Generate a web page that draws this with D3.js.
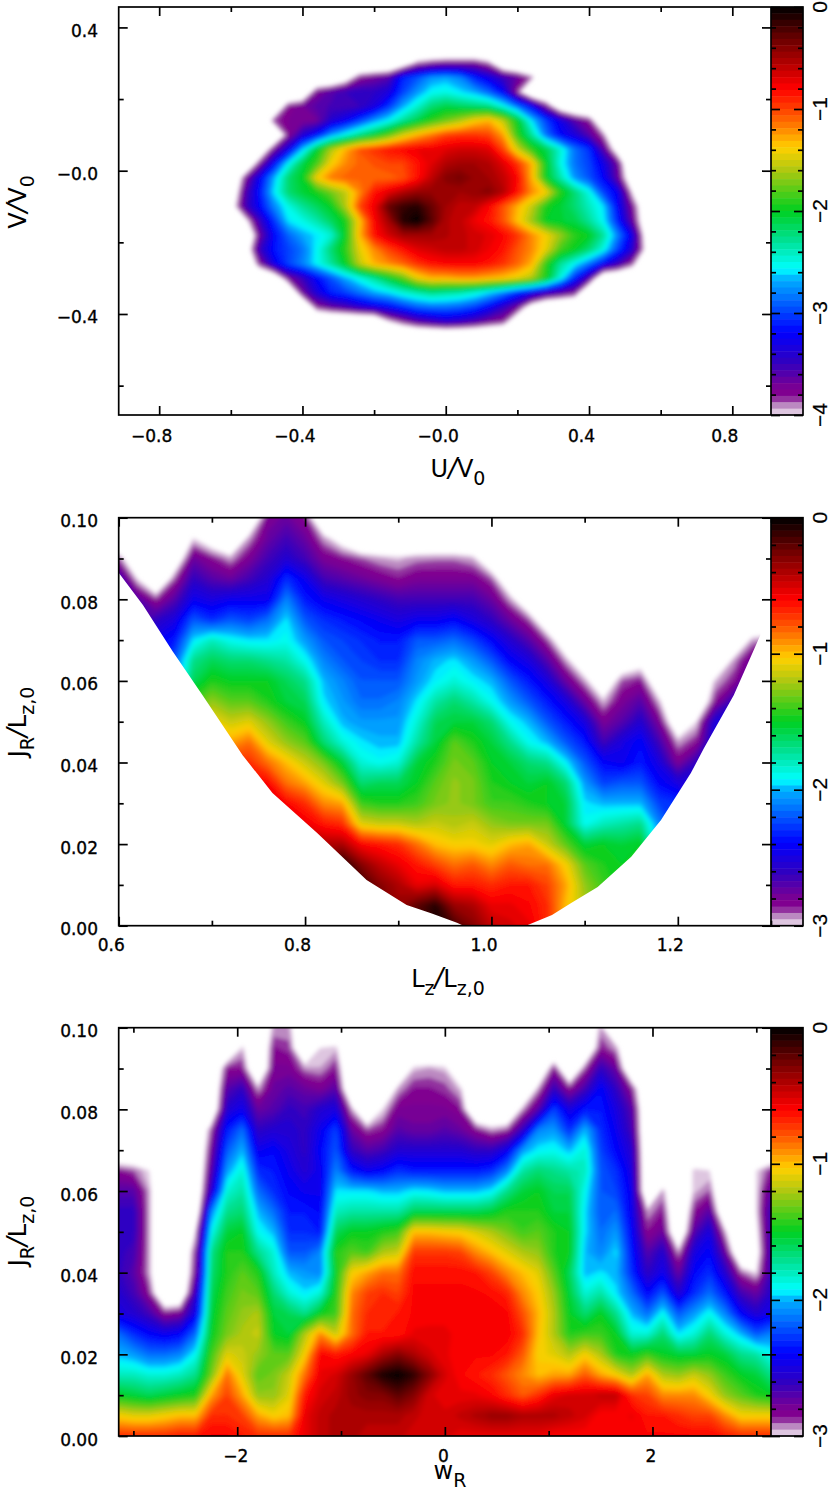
<!DOCTYPE html>
<html>
<head>
<meta charset="utf-8">
<script src="https://cdnjs.cloudflare.com/ajax/libs/d3/7.9.0/d3.min.js"></script>
<style>
    html, body { margin: 0; padding: 0; background: #fff; }
    svg { display: block; }
    text { font-family: "DejaVu Sans", sans-serif; fill: #000; }
    .tickLabel { font-size: 17px; stroke: #000; stroke-width: 0.35px; }
    .barLabel { font-family: "Liberation Sans", sans-serif; font-size: 21px; stroke: #000; stroke-width: 0.2px; }
    .axisTitle { font-size: 24px; }
    .tick line, .frame { stroke: #000; stroke-width: 1.7px; }
</style>
</head>
<body>
<svg id="chart" width="830" height="1491">
    <defs>
        <filter id="soften" x="-5%" y="-5%" width="110%" height="110%">
            <feGaussianBlur stdDeviation="2"></feGaussianBlur>
        </filter>
    </defs>
</svg>
<script>
//Colour table: position along the bar (0 = top) and colour.
var barStops = [0, 0.07, 0.13, 0.2, 0.25, 0.295, 0.345, 0.4, 0.5, 0.57, 0.643, 0.667, 0.797, 0.87, 0.937, 0.955, 0.968, 1];
var barColors = ["#000000", "#600000", "#a80000", "#ff0000", "#ff4000", "#ff8000", "#ffd000", "#b0c810", "#00d020", "#00e090", "#00ffff", "#00b0ff", "#0000ff", "#3000c0", "#800090", "#800090", "#a868b0", "#f0e4f0"];

//Top panel: log density on a U,V grid, rows run from the top of the plot down.
var B = -4.5;
var gridU = [-0.6, 0.6];
var gridV = [0.34, -0.46];
var velocityRows = [
    [B,B,B,B,B,B,B,B,B,B,B,B,B,B,B,B,B,B,B,B,B,B,B,B,B,B,B,B,B,B,B],
    [B,B,B,B,B,B,B,B,B,B,B,B,-4.3,-3.9,-3.8,-3.75,-3.75,-3.75,-3.9,-4.4,B,B,B,B,B,B,B,B,B,B,B],
    [B,B,B,B,B,B,B,B,-4.2,-3.8,-3.7,-3.6,-3.1,-2.95,-2.75,-2.7,-2.8,-3.1,-3.3,-3.5,-3.65,-3.9,B,B,B,B,B,B,B,B,B],
    [B,B,B,B,B,-4.4,-3.75,-3.6,-3.5,-3.45,-3.45,-3.35,-3.0,-2.75,-2.55,-2.5,-2.6,-2.7,-2.9,-3.2,-3.85,B,B,B,B,B,B,B,B,B,B],
    [B,B,B,B,-3.8,-3.7,-3.6,-3.55,-3.55,-3.5,-3.35,-3.05,-2.7,-2.45,-2.2,-2.1,-2.15,-2.2,-2.25,-2.5,-2.85,-3.2,-3.75,-4.3,B,B,B,B,B,B,B],
    [B,B,B,-3.85,-3.75,-3.75,-3.7,-3.4,-3.25,-3.0,-2.75,-2.55,-2.3,-2.1,-1.9,-1.75,-1.6,-1.4,-1.3,-1.55,-2.0,-2.6,-3.0,-3.3,-3.6,-3.8,-4.4,B,B,B,B],
    [B,B,B,B,-3.8,-3.4,-3.15,-2.75,-2.5,-2.25,-2.05,-1.8,-1.5,-1.3,-1.15,-1.0,-0.95,-0.95,-1.0,-1.25,-1.9,-2.3,-2.85,-3.2,-3.35,-3.6,-3.9,B,B,B,B],
    [B,B,-4.4,-3.75,-3.3,-2.65,-2.05,-1.6,-1.3,-1.05,-0.95,-0.85,-0.8,-0.75,-0.75,-0.7,-0.65,-0.65,-0.7,-1.0,-1.5,-1.9,-2.1,-2.45,-2.85,-3.05,-3.6,-4.2,B,B,B],
    [B,B,-3.8,-3.2,-2.55,-2.1,-1.85,-1.4,-1.2,-1.1,-1.05,-1.0,-1.0,-0.85,-0.7,-0.55,-0.5,-0.5,-0.55,-0.7,-0.95,-1.3,-2.0,-2.5,-2.85,-3.0,-3.3,-3.7,-4.5,B,B],
    [B,-3.8,-3.25,-2.7,-2.2,-2.0,-1.4,-1.15,-1.1,-1.1,-1.1,-1.1,-1.05,-0.85,-0.6,-0.4,-0.35,-0.45,-0.5,-0.6,-0.8,-1.3,-2.0,-2.35,-2.75,-2.95,-3.2,-3.65,-4.3,B,B],
    [-4.4,-3.6,-3.15,-2.6,-2.2,-2.05,-1.95,-1.75,-1.55,-1.2,-0.85,-0.7,-0.55,-0.45,-0.45,-0.5,-0.5,-0.45,-0.4,-0.55,-0.85,-1.2,-1.4,-1.9,-2.2,-2.5,-3.0,-3.25,-4.0,B,B],
    [-4.2,-3.55,-3.2,-2.8,-2.5,-2.3,-2.15,-2.0,-1.6,-1.0,-0.75,-0.3,-0.15,-0.1,-0.3,-0.5,-0.6,-0.6,-0.8,-1.05,-1.3,-1.55,-1.95,-2.05,-2.2,-2.4,-2.6,-3.2,-3.75,-4.3,B],
    [B,-4.1,-3.5,-3.05,-2.6,-2.5,-2.35,-2.15,-1.95,-1.35,-0.8,-0.5,-0.1,0,-0.25,-0.55,-0.6,-0.75,-0.85,-1.05,-1.35,-1.65,-2.0,-2.05,-2.1,-2.3,-2.55,-3.1,-3.65,-4.3,B],
    [B,-4.5,-3.7,-3.2,-2.9,-2.7,-2.6,-2.45,-2.0,-1.3,-0.85,-0.65,-0.5,-0.5,-0.5,-0.55,-0.6,-0.65,-0.7,-0.8,-0.95,-1.2,-1.4,-1.65,-1.9,-2.0,-2.3,-2.8,-3.3,-4.2,B],
    [B,-4.3,-3.5,-3.15,-3.0,-2.85,-2.55,-2.2,-1.9,-1.45,-1.2,-1.0,-0.85,-0.7,-0.65,-0.6,-0.6,-0.65,-0.75,-0.85,-1.05,-1.2,-1.45,-1.85,-2.0,-2.2,-2.5,-3.0,-3.4,-4.1,B],
    [B,B,-3.8,-3.3,-3.0,-2.8,-2.55,-2.3,-2.0,-1.55,-1.3,-1.2,-1.1,-0.95,-0.85,-0.8,-0.8,-0.8,-0.85,-0.95,-1.1,-1.3,-1.9,-2.3,-2.55,-2.85,-3.2,-3.5,-3.85,B,B],
    [B,B,B,-4.4,-3.75,-3.5,-3.2,-2.95,-2.7,-2.5,-2.3,-2.05,-1.8,-1.45,-1.3,-1.3,-1.25,-1.25,-1.3,-1.35,-1.45,-1.6,-1.95,-2.5,-3.1,-3.6,B,B,B,B,B],
    [B,B,B,B,B,-3.7,-3.35,-3.1,-3.0,-2.85,-2.7,-2.6,-2.45,-2.35,-2.25,-2.3,-2.35,-2.45,-2.6,-2.8,-3.05,-3.25,-3.45,-3.6,-3.75,B,B,B,B,B,B],
    [B,B,B,B,B,B,-3.8,-3.65,-3.55,-3.4,-3.3,-3.2,-3.05,-2.9,-2.85,-2.85,-2.9,-3.0,-3.2,-3.45,-3.7,-4.2,B,B,B,B,B,B,B,B,B],
    [B,B,B,B,B,B,B,B,B,B,B,-4.0,-3.8,-3.6,-3.5,-3.4,-3.45,-3.55,-3.7,-3.8,-4.3,B,B,B,B,B,B,B,B,B,B],
    [B,B,B,B,B,B,B,B,B,B,B,B,B,B,B,B,B,B,B,B,B,B,B,B,B,B,B,B,B,B,B]
];

//Middle panel: columns run along Lz, each column from J=0 upward.
var T = -3.3;
var gridLz = [0.6, 1.3];
var gridJ2 = [0, 0.1];
var actionColumns = [
    [-2.6,-2.6,-2.6,-2.6,-2.6,-2.6,-2.6,-2.6,-2.6,-2.6,-2.6,-2.6,-2.6,-2.6,-2.6,-2.6,-2.6,-2.6,-2.9,T,T],
    [-2.7,-2.7,-2.7,-2.7,-2.7,-2.7,-2.7,-2.7,-2.7,-2.7,-2.7,-2.7,-2.7,-2.7,-2.7,-2.7,-2.7,-3.0,T,T,T],
    [-2.45,-2.45,-2.45,-2.45,-2.45,-2.45,-2.45,-2.45,-2.45,-2.45,-2.45,-2.45,-2.45,-2.45,-2.45,-2.6,-2.88,T,T,T,T],
    [-2.1,-2.1,-2.1,-2.1,-2.1,-2.1,-2.1,-2.1,-2.1,-2.1,-2.1,-2.1,-2.1,-2.2,-2.35,-2.5,-2.7,-2.9,-3.2,T,T],
    [-1.4,-1.4,-1.4,-1.4,-1.4,-1.4,-1.4,-1.4,-1.4,-1.4,-1.4,-1.4,-1.6,-1.7,-1.95,-2.2,-2.45,-2.6,-2.75,-3.0,T],
    [-0.85,-0.85,-0.85,-0.85,-0.85,-0.85,-0.85,-0.85,-0.85,-0.85,-1.05,-1.25,-1.45,-1.6,-1.8,-2.3,-2.5,-2.7,-2.85,-3.15,T],
    [-0.7,-0.7,-0.7,-0.7,-0.7,-0.7,-0.7,-0.7,-0.7,-0.95,-1.15,-1.35,-1.5,-1.65,-1.9,-2.2,-2.45,-2.75,-2.95,T,T],
    [-0.6,-0.6,-0.6,-0.6,-0.6,-0.6,-0.6,-0.6,-0.7,-0.85,-1.1,-1.35,-1.5,-1.65,-1.95,-2.25,-2.45,-2.65,-2.8,-2.95,T],
    [-0.5,-0.5,-0.5,-0.5,-0.5,-0.5,-0.5,-0.6,-0.85,-1.1,-1.25,-1.45,-1.5,-1.7,-1.95,-2.15,-2.45,-2.55,-2.65,-2.75,-2.8],
    [-0.5,-0.5,-0.5,-0.5,-0.5,-0.5,-0.6,-0.85,-1.0,-1.25,-1.4,-1.55,-1.6,-1.75,-1.9,-1.95,-2.1,-2.3,-2.55,-2.65,-2.75],
    [-0.4,-0.4,-0.4,-0.4,-0.4,-0.55,-0.7,-0.95,-1.15,-1.35,-1.5,-1.6,-1.7,-1.9,-2.05,-2.2,-2.35,-2.45,-2.65,-2.75,-2.85],
    [-0.25,-0.25,-0.25,-0.25,-0.4,-0.65,-0.9,-1.1,-1.3,-1.65,-1.8,-1.95,-2.0,-2.1,-2.2,-2.3,-2.45,-2.65,-2.8,-2.95,T],
    [-0.1,-0.1,-0.1,-0.05,-0.4,-0.7,-0.95,-1.3,-1.55,-1.85,-2.0,-2.05,-2.1,-2.2,-2.25,-2.35,-2.5,-2.7,-2.85,-3.1,T],
    [-0.1,-0.1,-0.1,-0.3,-0.6,-1.1,-1.4,-1.65,-1.85,-1.95,-2.05,-2.15,-2.2,-2.25,-2.3,-2.4,-2.55,-2.75,-2.9,T,T],
    [-0.2,-0.2,-0.3,-0.45,-0.65,-1.15,-1.45,-1.6,-1.9,-2.0,-2.05,-2.15,-2.2,-2.3,-2.35,-2.45,-2.6,-2.8,-2.95,T,T],
    [-0.35,-0.35,-0.4,-0.55,-0.7,-1.15,-1.45,-1.6,-1.85,-2.0,-2.05,-2.1,-2.2,-2.3,-2.35,-2.5,-2.65,-2.85,-2.97,T,T],
    [-0.2,-0.2,-0.55,-0.65,-0.85,-1.2,-1.4,-1.5,-1.55,-1.75,-1.85,-1.95,-2.05,-2.1,-2.2,-2.45,-2.65,-2.8,-2.93,T,T],
    [-0.05,-0.08,-0.5,-0.75,-1.0,-1.15,-1.3,-1.35,-1.45,-1.55,-1.6,-1.75,-1.93,-2.0,-2.2,-2.45,-2.65,-2.8,-2.92,T,T],
    [-0.15,-0.35,-0.65,-0.85,-1.05,-1.2,-1.25,-1.25,-1.3,-1.35,-1.55,-1.65,-1.85,-1.95,-2.15,-2.4,-2.65,-2.8,-2.92,T,T],
    [-0.3,-0.4,-0.65,-0.8,-1.05,-1.15,-1.3,-1.3,-1.35,-1.45,-1.55,-1.75,-1.93,-2.05,-2.25,-2.5,-2.65,-2.8,-2.96,T,T],
    [-0.45,-0.55,-0.7,-0.9,-1.1,-1.25,-1.4,-1.45,-1.5,-1.55,-1.65,-1.9,-2.0,-2.2,-2.4,-2.6,-2.75,-2.9,-3.2,T,T],
    [-0.5,-0.55,-0.65,-0.8,-1.0,-1.3,-1.4,-1.5,-1.55,-1.7,-1.9,-2.05,-2.2,-2.4,-2.55,-2.75,-2.95,-3.2,T,T,T],
    [-0.55,-0.6,-0.65,-0.85,-0.95,-1.3,-1.45,-1.55,-1.65,-1.9,-2.0,-2.2,-2.35,-2.5,-2.7,-2.9,-3.2,T,T,T,T],
    [-0.7,-0.7,-0.75,-0.85,-1.15,-1.3,-1.5,-1.5,-1.7,-2.0,-2.2,-2.35,-2.5,-2.7,-2.9,-3.2,T,T,T,T,T],
    [-1.0,-1.0,-0.95,-1.05,-1.35,-1.55,-1.55,-1.65,-1.93,-2.2,-2.35,-2.5,-2.75,-2.95,-3.2,T,T,T,T,T,T],
    [-1.2,-1.2,-1.25,-1.35,-1.55,-1.9,-1.95,-2.05,-2.2,-2.35,-2.5,-2.75,-2.95,-3.2,T,T,T,T,T,T,T],
    [-1.4,-1.4,-1.4,-1.45,-1.5,-1.8,-2.0,-2.25,-2.4,-2.65,-2.8,-2.97,-3.2,T,T,T,T,T,T,T,T],
    [-1.5,-1.5,-1.5,-1.5,-1.55,-1.75,-2.0,-2.2,-2.45,-2.5,-2.7,-2.8,-2.9,-3.2,T,T,T,T,T,T,T],
    [-1.5,-1.5,-1.5,-1.5,-1.5,-1.7,-2.0,-2.2,-2.35,-2.4,-2.55,-2.7,-2.85,-3.1,T,T,T,T,T,T,T],
    [-2.0,-2.0,-2.0,-2.0,-2.0,-2.1,-2.25,-2.4,-2.5,-2.65,-2.8,-2.97,-3.2,T,T,T,T,T,T,T,T],
    [-2.3,-2.3,-2.3,-2.3,-2.3,-2.3,-2.3,-2.5,-2.8,-2.95,-3.2,T,T,T,T,T,T,T,T,T,T],
    [-2.5,-2.5,-2.5,-2.5,-2.5,-2.5,-2.5,-2.5,-2.6,-2.85,-3.0,-3.25,T,T,T,T,T,T,T,T,T],
    [-2.4,-2.4,-2.4,-2.4,-2.4,-2.4,-2.4,-2.4,-2.4,-2.45,-2.5,-2.85,-2.97,T,T,T,T,T,T,T,T],
    [-2.5,-2.5,-2.5,-2.5,-2.5,-2.5,-2.5,-2.5,-2.5,-2.5,-2.5,-2.6,-2.85,-2.95,T,T,T,T,T,T,T],
    [-2.6,-2.6,-2.6,-2.6,-2.6,-2.6,-2.6,-2.6,-2.6,-2.6,-2.6,-2.6,-2.6,-2.75,-2.95,T,T,T,T,T,T],
    [-2.6,-2.6,-2.6,-2.6,-2.6,-2.6,-2.6,-2.6,-2.6,-2.6,-2.6,-2.6,-2.6,-2.6,-2.9,T,T,T,T,T,T]
];

//Lower limit of the populated region in the middle panel.
var edgeLz = [0.6, 0.626, 0.658, 0.69, 0.733, 0.765, 0.813, 0.866, 0.909, 0.936, 0.963, 0.97, 1.037, 1.065, 1.086, 1.114, 1.15, 1.182, 1.214, 1.228, 1.26, 1.2885];
var edgeJ = [0.0865, 0.0786, 0.0672, 0.0565, 0.0418, 0.0325, 0.0227, 0.0112, 0.0051, 0.003, 0.0007, 0, 0, 0.0026, 0.0056, 0.0095, 0.0169, 0.0259, 0.0374, 0.0435, 0.0565, 0.0712];

//Bottom panel: columns run along w, each column from J=0.10 down to 0.
var gridW = [-3.15, 3.15];
var gridJ3 = [0.1, 0];
var angleColumns = [
    [T,T,T,T,T,T,T,-2.85,-2.7,-2.6,-2.6,-2.6,-2.6,-2.55,-2.5,-2.15,-2.0,-1.8,-1.5,-1.05,-0.7],
    [T,T,T,T,T,T,T,-2.9,-2.7,-2.6,-2.6,-2.65,-2.7,-2.65,-2.55,-2.3,-2.05,-1.8,-1.55,-1.1,-0.7],
    [T,T,T,T,T,T,T,-3.0,-2.95,-2.95,-2.95,-2.95,-2.95,-2.85,-2.65,-2.4,-2.15,-1.85,-1.6,-1.1,-0.7],
    [T,T,T,T,T,T,T,T,T,T,T,T,T,T,-2.85,-2.45,-2.15,-1.85,-1.55,-1.05,-0.7],
    [T,T,T,T,T,T,T,T,T,T,T,T,T,T,-2.8,-2.4,-2.1,-1.8,-1.5,-1.0,-0.65],
    [T,T,T,T,T,T,T,T,T,T,-3.0,-2.85,-2.8,-2.6,-2.45,-2.15,-1.9,-1.7,-1.45,-1.0,-0.65],
    [T,T,T,T,T,-2.9,-2.8,-2.7,-2.55,-2.1,-1.9,-1.7,-1.65,-1.6,-1.55,-1.5,-1.4,-1.3,-0.95,-0.7,-0.6],
    [T,T,-2.85,-2.7,-2.55,-2.35,-2.2,-2.05,-1.85,-1.7,-1.55,-1.45,-1.45,-1.4,-1.35,-1.3,-1.1,-0.85,-0.75,-0.7,-0.6],
    [T,-2.97,-2.85,-2.6,-2.45,-2.15,-2.0,-1.85,-1.75,-1.65,-1.5,-1.45,-1.35,-1.3,-1.25,-1.2,-1.15,-1.1,-0.95,-0.75,-0.65],
    [T,T,T,-2.95,-2.75,-2.6,-2.45,-2.3,-2.15,-2.0,-1.9,-1.7,-1.45,-1.35,-1.2,-1.15,-1.25,-1.35,-1.25,-0.95,-0.7],
    [-2.95,-2.85,-2.8,-2.75,-2.7,-2.55,-2.4,-2.35,-2.3,-2.15,-2.0,-1.85,-1.8,-1.65,-1.55,-1.5,-1.35,-1.3,-1.25,-1.05,-0.7],
    [-2.95,-2.88,-2.8,-2.7,-2.6,-2.55,-2.5,-2.45,-2.4,-2.35,-2.3,-2.2,-2.0,-1.85,-1.6,-1.55,-1.35,-1.15,-1.1,-1.0,-0.7],
    [T,T,-2.93,-2.75,-2.65,-2.6,-2.6,-2.55,-2.45,-2.35,-2.3,-2.2,-2.05,-1.95,-1.7,-1.2,-1.05,-0.85,-0.65,-0.55,-0.55],
    [T,-3.0,-2.95,-2.8,-2.55,-2.45,-2.4,-2.45,-2.45,-2.4,-2.35,-2.1,-2.1,-1.85,-1.5,-0.9,-0.6,-0.55,-0.5,-0.45,-0.45],
    [T,-2.97,-2.85,-2.7,-2.5,-2.25,-2.2,-2.1,-1.95,-1.8,-1.6,-1.45,-1.5,-1.45,-1.4,-1.15,-0.65,-0.5,-0.45,-0.4,-0.4],
    [T,T,T,T,-2.95,-2.75,-2.6,-2.35,-1.95,-1.75,-1.5,-1.35,-1.05,-0.9,-0.85,-0.85,-0.6,-0.35,-0.35,-0.4,-0.4],
    [T,T,T,T,T,-2.9,-2.7,-2.45,-1.95,-1.75,-1.5,-1.4,-0.95,-0.75,-0.7,-0.65,-0.55,-0.2,-0.3,-0.4,-0.45],
    [T,T,T,T,-3.0,-2.85,-2.65,-2.4,-2.0,-1.75,-1.45,-1.2,-0.85,-0.7,-0.7,-0.65,-0.4,-0.05,-0.3,-0.4,-0.45],
    [T,T,T,-2.95,-2.8,-2.7,-2.55,-2.3,-2.0,-1.75,-1.4,-1.15,-0.85,-0.75,-0.65,-0.65,-0.3,0,-0.2,-0.4,-0.45],
    [T,T,-2.97,-2.85,-2.8,-2.75,-2.55,-2.35,-1.93,-1.6,-1.0,-0.72,-0.62,-0.6,-0.6,-0.55,-0.4,-0.1,-0.3,-0.45,-0.5],
    [T,T,-2.95,-2.85,-2.8,-2.75,-2.55,-2.35,-1.95,-1.6,-1.0,-0.72,-0.62,-0.6,-0.58,-0.55,-0.5,-0.3,-0.5,-0.5,-0.5],
    [T,T,-2.97,-2.88,-2.8,-2.7,-2.55,-2.35,-2.0,-1.6,-1.03,-0.72,-0.62,-0.6,-0.58,-0.55,-0.55,-0.5,-0.55,-0.5,-0.5],
    [T,T,T,-2.97,-2.85,-2.75,-2.55,-2.35,-2.0,-1.6,-1.05,-0.75,-0.62,-0.6,-0.58,-0.58,-0.6,-0.6,-0.55,-0.45,-0.55],
    [T,T,T,T,T,-2.85,-2.6,-2.35,-2.0,-1.6,-1.12,-0.9,-0.65,-0.6,-0.58,-0.58,-0.6,-0.65,-0.55,-0.4,-0.55],
    [T,T,T,T,T,-2.95,-2.6,-2.3,-1.93,-1.55,-1.2,-1.0,-0.75,-0.62,-0.58,-0.58,-0.6,-0.7,-0.6,-0.35,-0.55],
    [T,T,T,T,T,-2.9,-2.45,-2.1,-1.7,-1.45,-1.3,-1.1,-0.9,-0.68,-0.6,-0.58,-0.65,-0.8,-0.7,-0.35,-0.55],
    [T,T,T,T,-2.95,-2.6,-2.05,-1.75,-1.55,-1.45,-1.4,-1.2,-1.0,-0.9,-0.78,-0.7,-0.8,-0.9,-0.8,-0.4,-0.55],
    [T,T,T,-2.95,-2.7,-2.1,-1.93,-1.65,-1.5,-1.45,-1.35,-1.25,-1.1,-1.03,-0.98,-1.0,-1.05,-1.0,-0.7,-0.4,-0.55],
    [T,T,-2.85,-2.6,-2.25,-2.05,-1.9,-1.7,-1.6,-1.55,-1.45,-1.45,-1.35,-1.25,-1.2,-1.2,-1.1,-0.95,-0.55,-0.4,-0.6],
    [T,T,T,-2.85,-2.5,-2.3,-2.0,-1.75,-1.6,-1.55,-1.5,-1.5,-1.6,-1.55,-1.5,-1.45,-1.2,-0.95,-0.5,-0.45,-0.6],
    [T,T,-2.9,-2.65,-2.35,-2.0,-1.85,-1.8,-1.9,-1.95,-1.95,-2.0,-2.0,-1.85,-1.65,-1.4,-1.05,-0.8,-0.5,-0.5,-0.6],
    [-2.95,-2.85,-2.6,-2.4,-2.35,-2.3,-2.25,-2.2,-2.2,-2.2,-2.15,-2.1,-1.95,-1.75,-1.5,-1.4,-1.2,-0.95,-0.45,-0.6,-0.6],
    [T,-2.95,-2.75,-2.6,-2.5,-2.45,-2.4,-2.3,-2.25,-2.15,-2.05,-1.95,-2.0,-1.95,-1.7,-1.5,-1.45,-1.05,-0.45,-0.6,-0.6],
    [T,T,T,-2.85,-2.7,-2.65,-2.55,-2.5,-2.45,-2.45,-2.4,-2.35,-2.3,-2.15,-2.0,-1.85,-1.5,-1.2,-0.7,-0.55,-0.6],
    [T,T,T,T,T,T,T,T,T,-2.95,-2.85,-2.7,-2.6,-2.4,-2.15,-1.85,-1.4,-0.95,-0.75,-0.65,-0.6],
    [T,T,T,T,T,T,T,T,-2.95,-2.85,-2.75,-2.55,-2.45,-2.2,-1.9,-1.65,-1.5,-1.2,-0.9,-0.65,-0.6],
    [T,T,T,T,T,T,T,T,T,T,T,-2.95,-2.75,-2.55,-2.2,-1.95,-1.55,-1.25,-0.9,-0.7,-0.6],
    [T,T,T,T,T,T,T,-2.97,-2.97,-2.85,-2.7,-2.5,-2.4,-2.3,-2.05,-1.85,-1.55,-1.15,-0.9,-0.75,-0.6],
    [T,T,T,T,T,T,T,-3.0,-2.9,-2.7,-2.5,-2.4,-2.3,-2.15,-1.9,-1.65,-1.5,-1.25,-1.05,-0.75,-0.6],
    [T,T,T,T,T,T,T,T,T,T,-2.97,-2.75,-2.55,-2.35,-2.1,-1.85,-1.55,-1.4,-1.25,-0.9,-0.65],
    [T,T,T,T,T,T,T,T,T,T,T,T,-2.9,-2.65,-2.4,-2.0,-1.7,-1.5,-1.35,-1.05,-0.7],
    [T,T,T,T,T,T,T,-3.0,-3.0,-3.0,-3.05,-3.1,-3.0,-2.75,-2.55,-2.2,-1.75,-1.55,-1.45,-1.05,-0.7],
    [T,T,T,T,T,T,T,-2.85,-2.7,-2.6,-2.6,-2.6,-2.6,-2.55,-2.45,-2.1,-1.9,-1.7,-1.5,-1.05,-0.7]
];

//Tick positions and the labels that go with the major ones.
var velMajor = [-0.8, -0.4, 0, 0.4, 0.8];
var velMinor = [-0.6, -0.2, 0.2, 0.6];
var velLabels = ["\u22120.8", "\u22120.4", "\u22120.0", "0.4", "0.8"];
var vMajor = [-0.4, 0, 0.4];
var vMinor = [-0.6, -0.2, 0.2];
var vLabels = ["\u22120.4", "\u22120.0", "0.4"];
var lzMajor = [0.6, 0.8, 1.0, 1.2];
var lzMinor = [0.7, 0.9, 1.1, 1.3];
var lzLabels = ["0.6", "0.8", "1.0", "1.2"];
var jMajor = [0, 0.02, 0.04, 0.06, 0.08, 0.1];
var jMinor = [0.01, 0.03, 0.05, 0.07, 0.09];
var jLabels = ["0.00", "0.02", "0.04", "0.06", "0.08", "0.10"];
var wMajor = [-2, 0, 2];
var wMinor = [-3, -1, 1, 3];
var wLabels = ["\u22122", "0", "2"];
var barMajor4 = [-4, -3, -2, -1, 0];
var barLabels4 = ["\u22124", "\u22123", "\u22122", "\u22121", "0"];
var barMajor3 = [-3, -2, -1, 0];
var barLabels3 = ["\u22123", "\u22122", "\u22121", "0"];

//Plot box shared by all panels.
var plotLeft = 118.7,
    plotRight = 771,
    barRight = 803,
    bandCount = 64;

var svg = d3.select("#chart");
var palette = d3.scaleLinear().domain(barStops).range(barColors).interpolate(d3.interpolateRgb);

//Colour of one of the 64 bands, band 0 is the black end.
function bandColor(i) {
    return palette((i + 0.5) / bandCount);
}

//Draws one whole panel: density, axes, colour bar and labels.
function drawPanel(cfg) {
    var g = svg.append("g");
    var x = d3.scaleLinear().domain(cfg.xDomain).range([plotLeft, plotRight]);
    var y = d3.scaleLinear().domain(cfg.yDomain).range([cfg.bottom, cfg.top]);
    var n = cfg.rows[0].length,
        m = cfg.rows.length;

    //Grid index to data value, d3.contours puts the values at cell centres.
    var colToX = d3.scaleLinear().domain([0.5, n - 0.5]).range(cfg.gridX);
    var rowToY = d3.scaleLinear().domain([0.5, m - 0.5]).range(cfg.gridY);
    var path = d3.geoPath(d3.geoTransform({
        point: function (cx, cy) {
            this.stream.point(x(colToX(cx)), y(rowToY(cy)));
        }
    }));

    var clipId = "clip" + cfg.id;
    var clip = g.append("clipPath").attr("id", clipId);
    if (cfg.edgeX) {
        var edgeArea = d3.area()
            .x(function (d) { return x(d[0]); })
            .y0(function (d) { return y(d[1]); })
            .y1(y(cfg.yDomain[1]));
        clip.append("path").attr("d", edgeArea(d3.zip(cfg.edgeX, cfg.edgeY)));
    } else {
        clip.append("rect")
            .attr("x", plotLeft)
            .attr("y", cfg.top)
            .attr("width", plotRight - plotLeft)
            .attr("height", cfg.bottom - cfg.top);
    }

    //One filled contour per colour band, lowest first so that higher bands paint over.
    var bandValue = d3.scaleLinear().domain([bandCount, 0]).range([cfg.barDomain[0], 0]);
    var levels = d3.range(bandCount - 1, -1, -1);
    var contours = d3.contours()
        .size([n, m])
        .smooth(true)
        .thresholds(levels.map(function (i) { return bandValue(i + 1); }))(cfg.rows.flat());

    g.append("g")
        .attr("clip-path", "url(#" + clipId + ")")
        .append("g")
        .attr("filter", "url(#soften)")
        .selectAll("path")
        .data(contours)
        .enter()
        .append("path")
        .attr("d", path)
        .attr("fill", function (d, i) { return bandColor(levels[i]); })
        .attr("stroke", "none");

    //Colour bar made of the same 64 bands.
    var barY = d3.scaleLinear().domain([cfg.barDomain[0], 0]).range([cfg.bottom, cfg.top]);
    g.append("g").selectAll("rect")
        .data(d3.range(bandCount))
        .enter()
        .append("rect")
        .attr("x", plotRight)
        .attr("width", barRight - plotRight)
        .attr("y", function (i) { return barY(bandValue(i)); })
        .attr("height", function (i) { return barY(bandValue(i + 1)) - barY(bandValue(i)) + 0.5; })
        .attr("fill", bandColor);

    addTicks(g, d3.axisBottom(x), cfg.bottom, true, cfg.xMajor, cfg.xMinor, cfg.xLabels, cfg.xLabelY, cfg.xLabelDx);
    addTicks(g, d3.axisTop(x), cfg.top, true, cfg.xMajor, cfg.xMinor);
    addTicks(g, d3.axisLeft(y), plotLeft, false, cfg.yMajor, cfg.yMinor, cfg.yLabels);
    addTicks(g, d3.axisRight(y), plotRight, false, cfg.yMajor, cfg.yMinor);

    //Colour bar ticks point inward from both of its sides.
    var barMinor = d3.range(cfg.barDomain[0], 0.01, 0.2).filter(function (v) {
        return Math.abs(v - Math.round(v)) > 0.01;
    });
    addTicks(g, d3.axisLeft(barY), plotRight, false, cfg.barMajor, barMinor);
    addTicks(g, d3.axisRight(barY), barRight, false, cfg.barMajor, barMinor);

    g.selectAll(".barLabel")
        .data(cfg.barMajor)
        .enter()
        .append("text")
        .attr("class", "barLabel")
        .attr("text-anchor", "middle")
        .attr("transform", function (d) {
            return "translate(827," + barY(d) + ") rotate(-90)";
        })
        .text(function (d, i) { return cfg.barLabels[i]; });

    //Frame round the plot and the colour bar.
    g.append("rect").attr("class", "frame")
        .attr("x", plotLeft).attr("y", cfg.top)
        .attr("width", barRight - plotLeft).attr("height", cfg.bottom - cfg.top)
        .attr("fill", "none");
    g.append("line").attr("class", "frame")
        .attr("x1", plotRight).attr("x2", plotRight)
        .attr("y1", cfg.top).attr("y2", cfg.bottom);

    addTitle(g, cfg.xTitle, cfg.xTitleAt, false);
    addTitle(g, cfg.yTitle, cfg.yTitleAt, true);
}

//One side of a frame: long ticks with optional labels, then short ticks. All point inward.
function addTicks(g, axis, offset, horizontal, major, minor, labels, labelY, labelDx) {
    var place = horizontal ? "translate(0," + offset + ")" : "translate(" + offset + ",0)";
    var majorG = g.append("g")
        .attr("transform", place)
        .call(axis.tickValues(major).tickSizeInner(-9).tickSizeOuter(0).tickFormat(function (d, i) {
            return labels ? labels[i] : "";
        }));
    majorG.select(".domain").remove();
    majorG.selectAll("text")
        .attr("class", "tickLabel")
        .attr("dy", 0)
        .each(function () {
            if (horizontal) {
                d3.select(this).attr("y", labelY).attr("x", labelDx).attr("text-anchor", "middle");
            } else {
                d3.select(this).attr("y", 9).attr("x", 98 - plotLeft).attr("text-anchor", "end");
            }
        });
    var minorG = g.append("g")
        .attr("transform", place)
        .call(axis.tickValues(minor).tickSizeInner(-5).tickFormat(""));
    minorG.select(".domain").remove();
    minorG.selectAll("text").remove();
}

//Axis title built from pieces, sub pieces sit lower and smaller, "/" is slanted.
function addTitle(g, parts, at, rotated) {
    var text = g.append("text")
        .attr("class", "axisTitle")
        .attr("text-anchor", "middle")
        .attr("transform", "translate(" + at[0] + "," + at[1] + ")" + (rotated ? " rotate(-90)" : ""));
    var shift = 0;
    parts.forEach(function (p) {
        var span = text.append("tspan").text(p.t);
        var target = p.sub ? 8 : 0;
        span.attr("dy", target - shift);
        shift = target;
        if (p.sub) { span.style("font-size", "19px"); }
        if (p.t === "/") { span.style("font-size", "26px").style("font-style", "italic"); }
    });
}

var vOverV0 = [{ t: "V" }, { t: "/" }, { t: "V" }, { t: "0", sub: true }];
var uOverV0 = [{ t: "U" }, { t: "/" }, { t: "V" }, { t: "0", sub: true }];
var jOverL = [{ t: "J" }, { t: "R", sub: true }, { t: "/" }, { t: "L" }, { t: "z,0", sub: true }];
var lOverL = [{ t: "L" }, { t: "z", sub: true }, { t: "/" }, { t: "L" }, { t: "z,0", sub: true }];
var wTitle = [{ t: "w" }, { t: "R", sub: true }];

drawPanel({
    id: 1, top: 7, bottom: 415,
    xDomain: [-0.913, 0.908], yDomain: [-0.682, 0.457],
    rows: velocityRows, gridX: gridU, gridY: gridV,
    barDomain: [-4, 0], barMajor: barMajor4, barLabels: barLabels4,
    xMajor: velMajor, xMinor: velMinor, xLabels: velLabels, xLabelY: 26.7, xLabelDx: -8,
    yMajor: vMajor, yMinor: vMinor, yLabels: vLabels,
    xTitle: uOverV0, xTitleAt: [458, 476.7],
    yTitle: vOverV0, yTitleAt: [26, 202]
});

drawPanel({
    id: 2, top: 517.7, bottom: 925.7,
    xDomain: [0.6, 1.3], yDomain: [0, 0.1],
    rows: d3.transpose(actionColumns), gridX: gridLz, gridY: gridJ2,
    edgeX: edgeLz, edgeY: edgeJ,
    barDomain: [-3, 0], barMajor: barMajor3, barLabels: barLabels3,
    xMajor: lzMajor, xMinor: lzMinor, xLabels: lzLabels, xLabelY: 25, xLabelDx: -8,
    yMajor: jMajor, yMinor: jMinor, yLabels: jLabels,
    xTitle: lOverL, xTitleAt: [448, 986.7],
    yTitle: jOverL, yTitleAt: [26, 722]
});

drawPanel({
    id: 3, top: 1027.7, bottom: 1436,
    xDomain: [-Math.PI, Math.PI], yDomain: [0, 0.1],
    rows: d3.transpose(angleColumns), gridX: gridW, gridY: gridJ3,
    barDomain: [-3, 0], barMajor: barMajor3, barLabels: barLabels3,
    xMajor: wMajor, xMinor: wMinor, xLabels: wLabels, xLabelY: 25.7, xLabelDx: -2,
    yMajor: jMajor, yMinor: jMinor, yLabels: jLabels,
    xTitle: wTitle, xTitleAt: [450, 1479],
    yTitle: jOverL, yTitleAt: [26, 1231]
});
</script>
</body>
</html>
